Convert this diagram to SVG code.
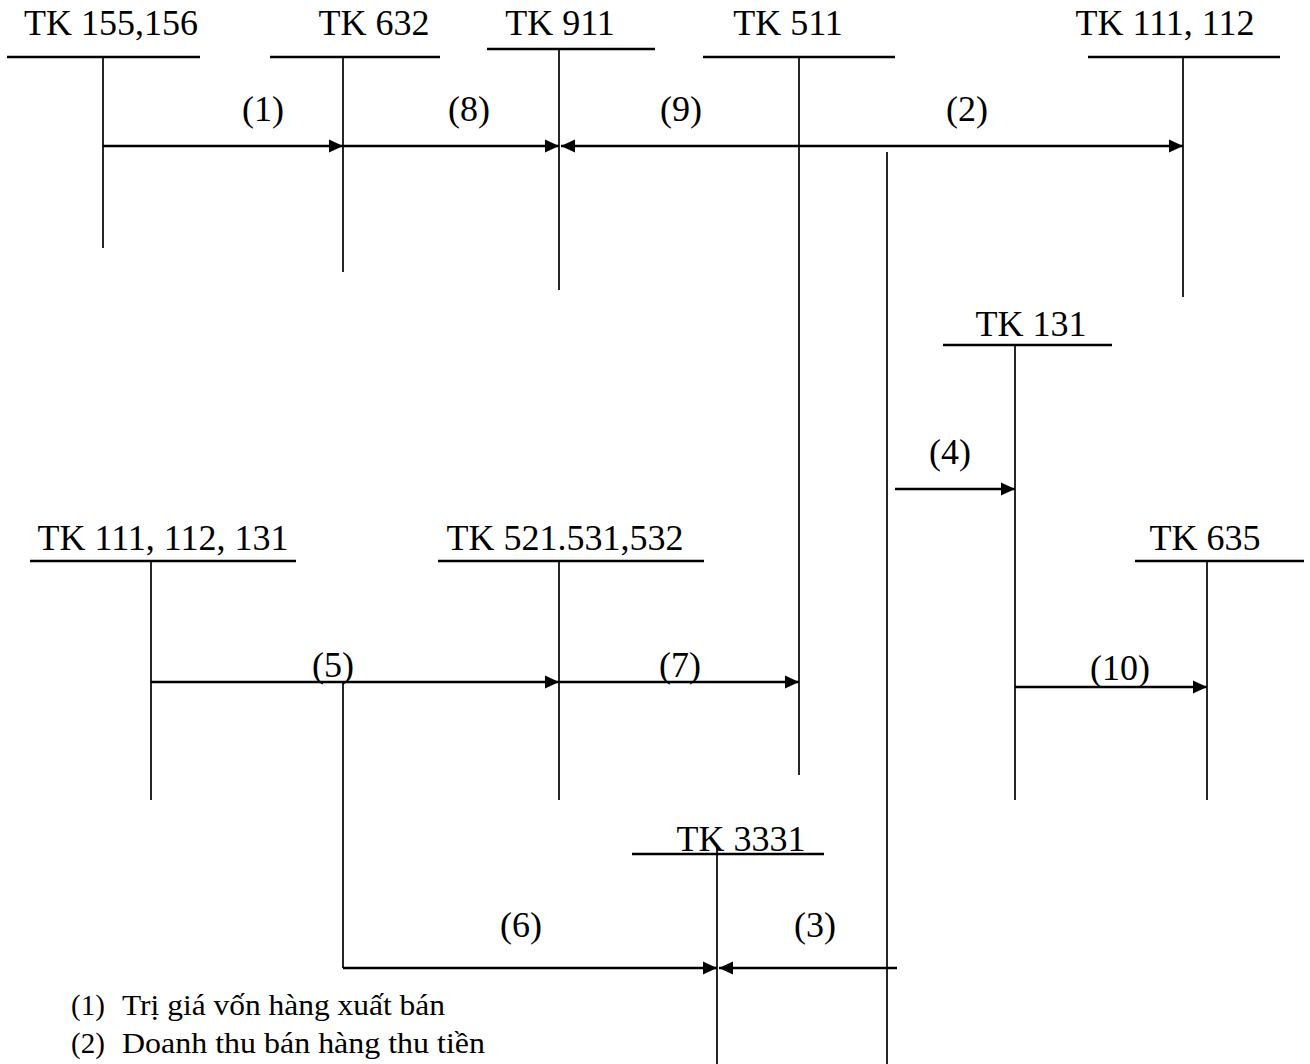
<svg xmlns="http://www.w3.org/2000/svg" width="1310" height="1064" viewBox="0 0 1310 1064">
<style>
text{font-family:"Liberation Serif","Times New Roman",serif;fill:#000}
.lbl{font-size:36px;text-anchor:middle}
.num{font-size:36px;text-anchor:middle}
.leg{font-size:29px}
.ul{stroke:#000;stroke-width:2.5}
.v{stroke:#000;stroke-width:1.7}
.arr{stroke:#000;stroke-width:2.5;fill:none;marker-end:url(#ah)}
</style>
<defs>
<marker id="ah" markerUnits="userSpaceOnUse" markerWidth="15" markerHeight="14" refX="14" refY="6.5" orient="auto-start-reverse" viewBox="0 0 15 13">
<path d="M0,0 L14,6.5 L0,13 z" fill="#000"/>
</marker>
</defs>
<rect width="1310" height="1064" fill="#fff"/>

<g id="tk155">
<text class="lbl" x="111" y="35">TK 155,156</text>
<line class="ul" x1="7" y1="57" x2="200" y2="57"/>
<line class="v" x1="103" y1="57" x2="103" y2="248"/>
</g>
<g id="tk632">
<text class="lbl" x="374" y="35">TK 632</text>
<line class="ul" x1="270" y1="57" x2="440" y2="57"/>
<line class="v" x1="343" y1="57" x2="343" y2="272"/>
</g>
<g id="tk911">
<text class="lbl" x="560" y="35">TK 911</text>
<line class="ul" x1="487" y1="49" x2="655" y2="49"/>
<line class="v" x1="559" y1="49" x2="559" y2="290"/>
</g>
<g id="tk511">
<text class="lbl" x="788" y="35">TK 511</text>
<line class="ul" x1="703" y1="57" x2="895" y2="57"/>
<line class="v" x1="799" y1="57" x2="799" y2="775"/>
</g>
<g id="tk111_112">
<text class="lbl" x="1165" y="35">TK 111, 112</text>
<line class="ul" x1="1088" y1="57" x2="1280" y2="57"/>
<line class="v" x1="1183" y1="57" x2="1183" y2="297"/>
</g>
<g id="tk131">
<text class="lbl" x="1031" y="336">TK 131</text>
<line class="ul" x1="943" y1="345" x2="1112" y2="345"/>
<line class="v" x1="1015" y1="345" x2="1015" y2="800"/>
</g>
<g id="tk111_112_131">
<text class="lbl" x="163" y="550">TK 111, 112, 131</text>
<line class="ul" x1="30" y1="561" x2="296" y2="561"/>
<line class="v" x1="151" y1="561" x2="151" y2="800"/>
</g>
<g id="tk521">
<text class="lbl" x="565" y="550">TK 521.531,532</text>
<line class="ul" x1="438" y1="561" x2="704" y2="561"/>
<line class="v" x1="559" y1="561" x2="559" y2="800"/>
</g>
<g id="tk635">
<text class="lbl" x="1205" y="550">TK 635</text>
<line class="ul" x1="1135" y1="561" x2="1304" y2="561"/>
<line class="v" x1="1207" y1="561" x2="1207" y2="800"/>
</g>
<g id="tk3331">
<text class="lbl" x="741" y="851">TK 3331</text>
<line class="ul" x1="632" y1="854" x2="824" y2="854"/>
<line class="v" x1="717" y1="848" x2="717" y2="1064"/>
</g>

<g id="connectors">
<line class="v" x1="887" y1="152" x2="887" y2="1064"/>
<line class="v" x1="343" y1="682" x2="343" y2="968"/>
<path class="arr" d="M103,146 H343"/>
<path class="arr" d="M343,146 H559"/>
<path class="arr" d="M561,146 H1183" style="marker-start:url(#ah)"/>
<path class="arr" d="M895,489 H1015"/>
<path class="arr" d="M151,682 H559"/>
<path class="arr" d="M559,682 H799"/>
<path class="arr" d="M1015,687 H1207"/>
<path class="arr" d="M343,968 H717"/>
<path class="arr" d="M897,968 H719"/>
<text class="num" x="263" y="121">(1)</text>
<text class="num" x="469" y="121">(8)</text>
<text class="num" x="681" y="121">(9)</text>
<text class="num" x="967" y="121">(2)</text>
<text class="num" x="950" y="464">(4)</text>
<text class="num" x="333" y="677">(5)</text>
<text class="num" x="680" y="677">(7)</text>
<text class="num" x="1120" y="680">(10)</text>
<text class="num" x="521" y="937">(6)</text>
<text class="num" x="815" y="937">(3)</text>
</g>

<g id="legend">
<text class="leg" x="71" y="1015">(1)</text>
<text class="leg" x="122" y="1015" textLength="323" lengthAdjust="spacingAndGlyphs">Trị giá vốn hàng xuất bán</text>
<text class="leg" x="71" y="1053">(2)</text>
<text class="leg" x="122" y="1053" textLength="363" lengthAdjust="spacingAndGlyphs">Doanh thu bán hàng thu tiền</text>
</g>
</svg>
